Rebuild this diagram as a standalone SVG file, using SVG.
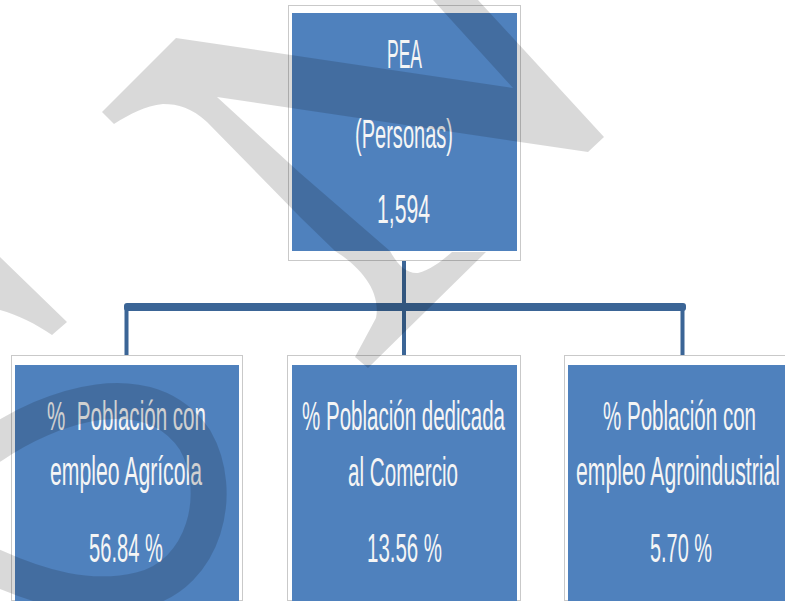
<svg xmlns="http://www.w3.org/2000/svg" width="785" height="601" viewBox="0 0 785 601">
<style>
.frame{fill:#ffffff;stroke:#c9c9c9;stroke-width:1}
.box{fill:#4f81bd}
.txt{font-family:"Liberation Sans Narrow","Liberation Sans","DejaVu Sans Condensed",sans-serif;font-size:25px;fill:#f5f5f5;text-anchor:middle;white-space:pre}
.conn{fill:#3b6596}
.wm{fill:#000000;fill-opacity:0.15}
.wms{fill:none;stroke:#000000;stroke-opacity:0.15;stroke-width:36}
</style>
<rect width="785" height="601" fill="#ffffff"/>
<g id="connectors">
<rect class="conn" x="402" y="261" width="4" height="94"/>
<rect class="conn" x="124" y="303" width="562" height="8" rx="3"/>
<rect class="conn" x="124.5" y="306" width="4" height="49"/>
<rect class="conn" x="680.5" y="306" width="4" height="49"/>
</g>
<g id="node-pea">
<rect class="frame" x="288.5" y="5.5" width="232" height="255"/>
<rect class="box" x="292" y="13" width="225" height="238"/>
<text class="txt" transform="translate(404.5,68) scale(1,1.6)" textLength="35" lengthAdjust="spacingAndGlyphs">PEA</text>
<text class="txt" transform="translate(404,148) scale(1,1.6)" textLength="98" lengthAdjust="spacingAndGlyphs">(Personas)</text>
<text class="txt" transform="translate(403.5,223) scale(1,1.6)" textLength="53" lengthAdjust="spacingAndGlyphs">1,594</text>
</g>
<g id="node-agricola">
<rect class="frame" x="11.5" y="355.5" width="231" height="245"/>
<rect class="box" x="15" y="365" width="224" height="236"/>
<text class="txt" transform="translate(126.5,430) scale(1,1.6)" textLength="159" lengthAdjust="spacingAndGlyphs">%  Población con</text>
<text class="txt" transform="translate(126,485) scale(1,1.6)" textLength="152" lengthAdjust="spacingAndGlyphs">empleo Agrícola</text>
<text class="txt" transform="translate(126,562) scale(1,1.6)" textLength="74" lengthAdjust="spacingAndGlyphs">56.84 %</text>
</g>
<g id="node-comercio">
<rect class="frame" x="287.5" y="355.5" width="233" height="245"/>
<rect class="box" x="292" y="365" width="225" height="236"/>
<text class="txt" transform="translate(403.5,430) scale(1,1.6)" textLength="203" lengthAdjust="spacingAndGlyphs">% Población dedicada</text>
<text class="txt" transform="translate(403,486) scale(1,1.6)" textLength="110" lengthAdjust="spacingAndGlyphs">al Comercio</text>
<text class="txt" transform="translate(404.5,562) scale(1,1.6)" textLength="75" lengthAdjust="spacingAndGlyphs">13.56 %</text>
</g>
<g id="node-agroindustrial">
<rect class="frame" x="564.5" y="355.5" width="221" height="245"/>
<rect class="box" x="568" y="365" width="217" height="236"/>
<text class="txt" transform="translate(679.5,430) scale(1,1.6)" textLength="153" lengthAdjust="spacingAndGlyphs">% Población con</text>
<text class="txt" transform="translate(678,485) scale(1,1.6)" textLength="204" lengthAdjust="spacingAndGlyphs">empleo Agroindustrial</text>
<text class="txt" transform="translate(681,562) scale(1,1.6)" textLength="62" lengthAdjust="spacingAndGlyphs">5.70 %</text>
</g>
<g id="watermark">
<path class="wm" d="M433,0 L478,0 L604,137 L588,152 L217,97 L300,173 L390,251 C398,266 408,274 418,273 C430,270 442,261 452,252 L486,252 L368,368 L355,357 L376,318 C381,292 362,268 335,251 L300,217 L207,122 C192,108 178,104 163,104 C145,106 130,114 114,124 L102,112 L176,38 L513,88 Z"/>
<path class="wm" d="M0,257 L67,322 L52,335 C36,324 18,315 0,310 Z"/>
<path class="wms" d="M-10,447 C50,405 150,372 195,440 C225,492 205,575 140,590 C90,602 40,588 -10,565"/>
</g>
</svg>
